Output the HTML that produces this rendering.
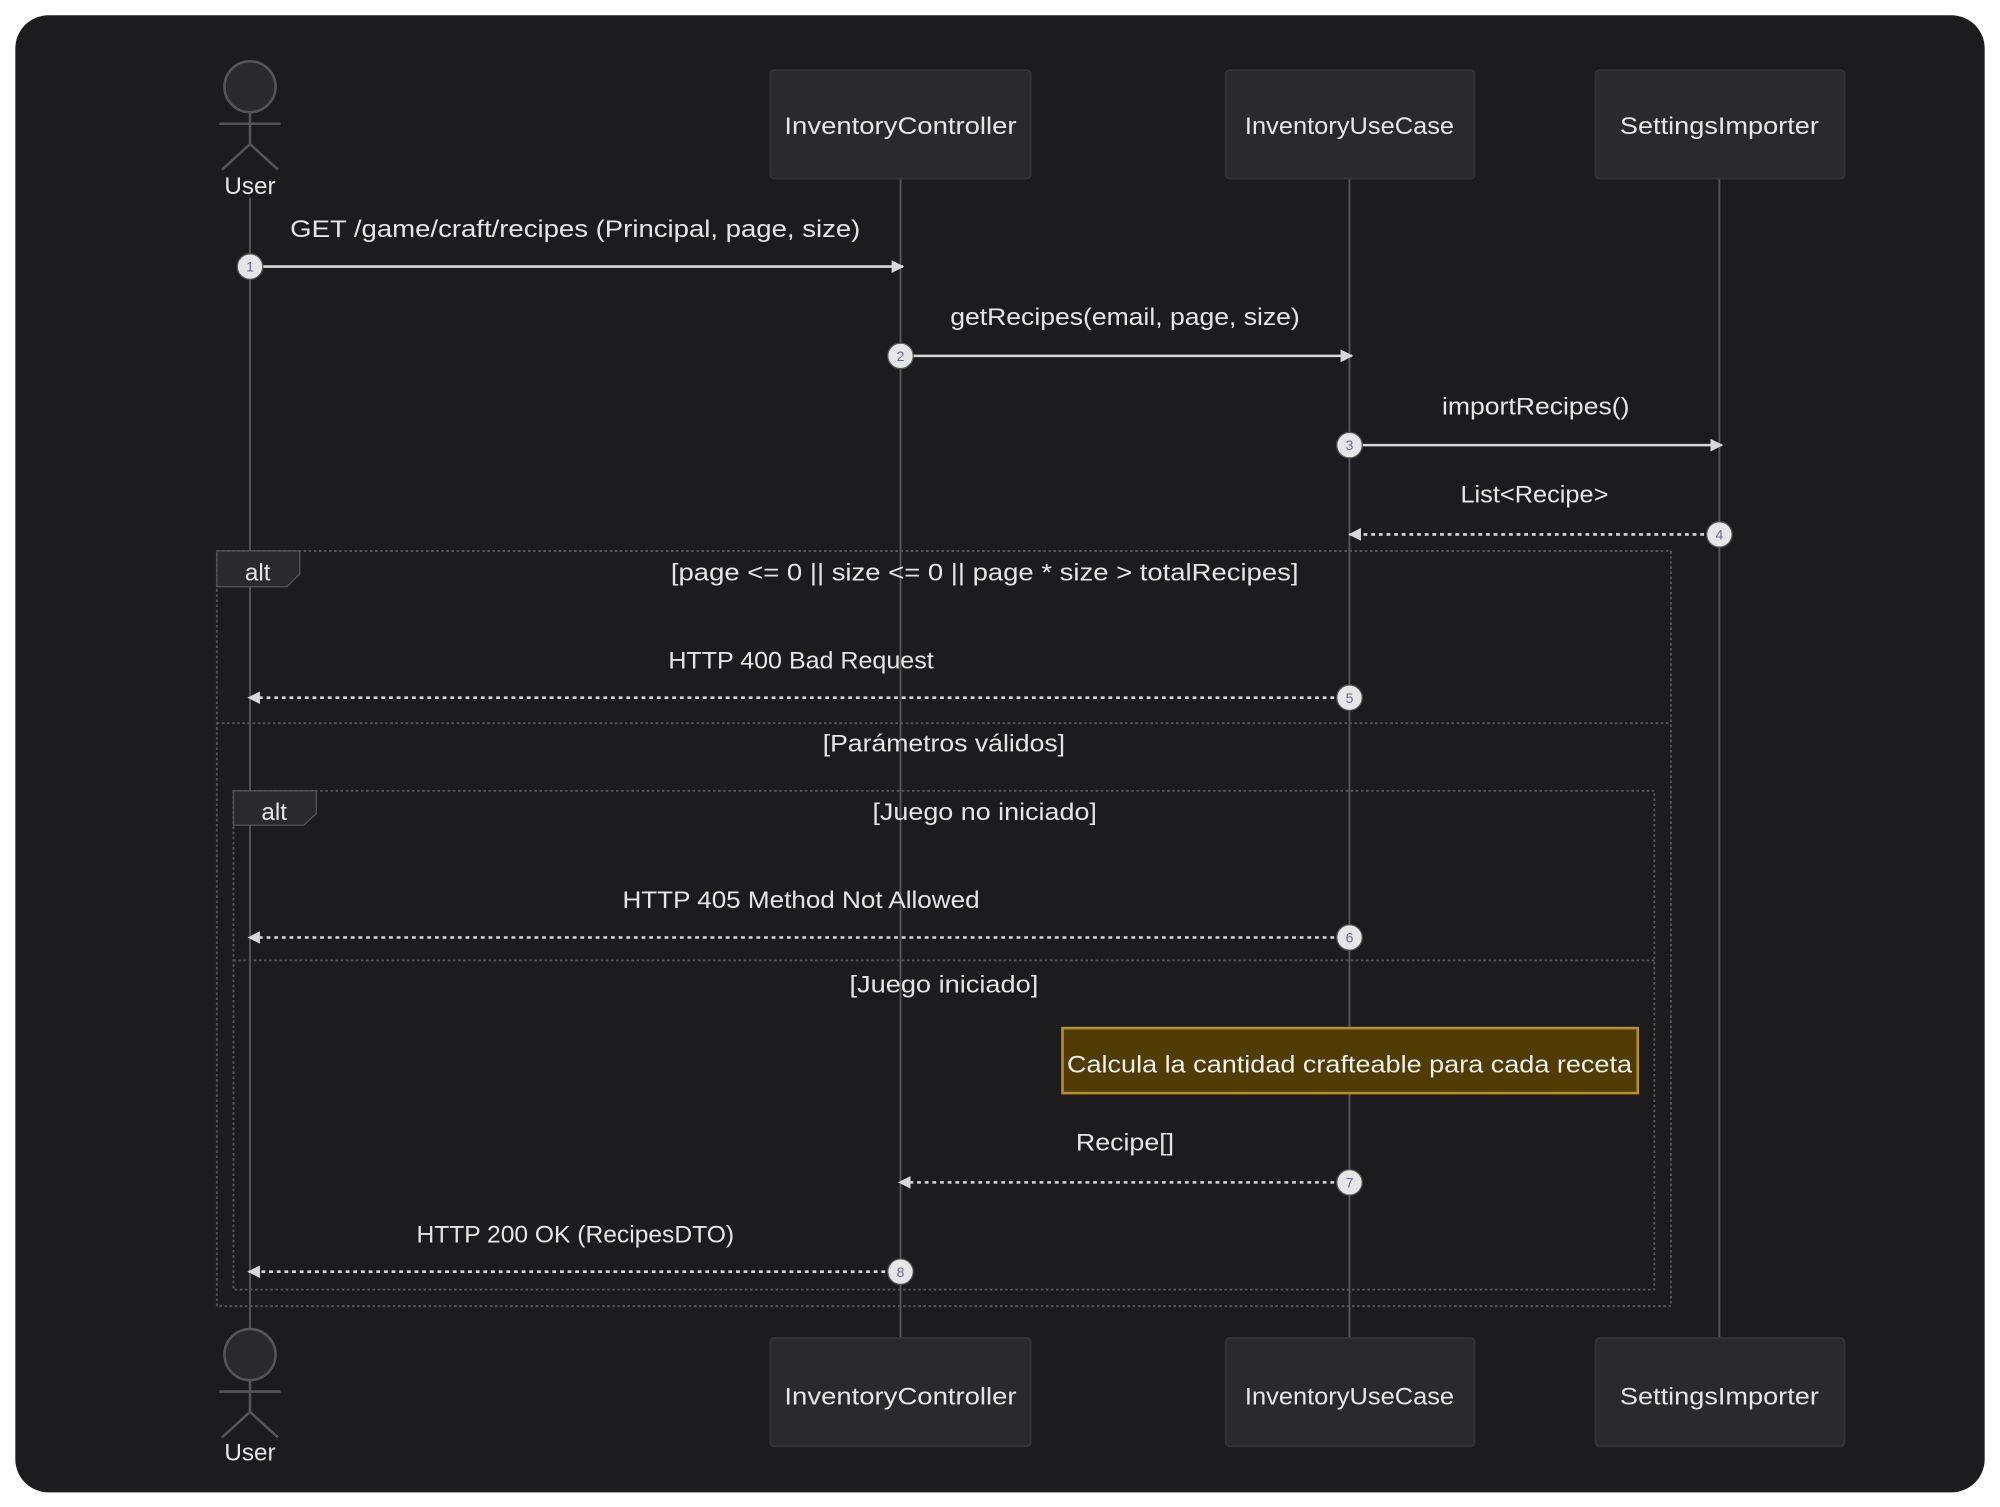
<!DOCTYPE html>
<html><head><meta charset="utf-8"><style>html,body{margin:0;padding:0;background:#fff}svg{display:block}</style></head>
<body>
<svg width="2000" height="1507" viewBox="0 0 1568 1181.5" preserveAspectRatio="none" xmlns="http://www.w3.org/2000/svg" font-family="'Liberation Sans', sans-serif">
<defs>
<marker id="ah" markerWidth="10" markerHeight="10" refX="9" refY="5" orient="auto" markerUnits="userSpaceOnUse"><path d="M0,0 L10,5 L0,10 z" fill="#d8d8d8"/></marker>
</defs>
<rect x="12" y="12" width="1544" height="1158" rx="26" fill="#1c1c1e"/>
<!-- lifelines -->
<g stroke="#555" stroke-width="1.5">
<line x1="196" y1="155" x2="196" y2="1045"/>
<line x1="706" y1="140" x2="706" y2="1049"/>
<line x1="1058" y1="140" x2="1058" y2="1049"/>
<line x1="1348" y1="140" x2="1348" y2="1049"/>
</g>
<!-- actors -->
<g stroke="#555" stroke-width="2" fill="#2a292c">
<circle cx="196" cy="68" r="20"/>
<line x1="196" y1="88" x2="196" y2="113"/><line x1="172" y1="97" x2="220" y2="97"/>
<line x1="196" y1="113" x2="174" y2="133"/><line x1="196" y1="113" x2="218" y2="133"/>
<circle cx="196" cy="1062" r="20"/>
<line x1="196" y1="1082" x2="196" y2="1107"/><line x1="172" y1="1091" x2="220" y2="1091"/>
<line x1="196" y1="1107" x2="174" y2="1127"/><line x1="196" y1="1107" x2="218" y2="1127"/>
</g>
<g fill="#e6e6e6" font-size="19" text-anchor="middle">
<text x="196" y="152">User</text>
<text x="196" y="1145">User</text>
</g>
<!-- participants -->
<g fill="#2a292c" stroke="#333336" stroke-width="1.5">
<rect x="604" y="55" width="204" height="85" rx="3"/>
<rect x="961" y="55" width="195" height="85" rx="3"/>
<rect x="1251" y="55" width="195" height="85" rx="3"/>
<rect x="604" y="1049" width="204" height="85" rx="3"/>
<rect x="961" y="1049" width="195" height="85" rx="3"/>
<rect x="1251" y="1049" width="195" height="85" rx="3"/>
</g>
<g fill="#e6e6e6" font-size="19" text-anchor="middle" lengthAdjust="spacingAndGlyphs">
<text x="706" y="105" textLength="182" lengthAdjust="spacingAndGlyphs">InventoryController</text>
<text x="1058" y="105" textLength="164" lengthAdjust="spacingAndGlyphs">InventoryUseCase</text>
<text x="1348" y="105" textLength="156" lengthAdjust="spacingAndGlyphs">SettingsImporter</text>
<text x="706" y="1101" textLength="182" lengthAdjust="spacingAndGlyphs">InventoryController</text>
<text x="1058" y="1101" textLength="164" lengthAdjust="spacingAndGlyphs">InventoryUseCase</text>
<text x="1348" y="1101" textLength="156" lengthAdjust="spacingAndGlyphs">SettingsImporter</text>
</g>
<!-- alt frames -->
<g fill="none" stroke="#555" stroke-width="1.5" stroke-dasharray="2,2">
<rect x="170" y="432" width="1140" height="592"/>
<line x1="170" y1="567" x2="1310" y2="567"/>
<rect x="183" y="620" width="1114" height="391"/>
<line x1="183" y1="753" x2="1297" y2="753"/>
</g>
<path d="M170,432 H235 V450 L225,460 H170 Z" fill="#2a292c" stroke="#555" stroke-width="1"/>
<path d="M183,620 H248 V638 L238,647 H183 Z" fill="#2a292c" stroke="#555" stroke-width="1"/>
<g fill="#e6e6e6" font-size="19" text-anchor="middle">
<text x="202" y="455">alt</text>
<text x="215" y="643">alt</text>
<text x="772" y="455" textLength="492" lengthAdjust="spacingAndGlyphs">[page &lt;= 0 || size &lt;= 0 || page * size &gt; totalRecipes]</text>
<text x="740" y="589" textLength="190" lengthAdjust="spacingAndGlyphs">[Parámetros válidos]</text>
<text x="772" y="643" textLength="176" lengthAdjust="spacingAndGlyphs">[Juego no iniciado]</text>
<text x="740" y="778" textLength="148" lengthAdjust="spacingAndGlyphs">[Juego iniciado]</text>
</g>
<!-- note -->
<rect x="833" y="806" width="451" height="51" fill="#503c00" stroke="#b8902a" stroke-width="2"/>
<text x="1058" y="841" fill="#f0f0f0" font-size="19" text-anchor="middle" textLength="443" lengthAdjust="spacingAndGlyphs">Calcula la cantidad crafteable para cada receta</text>
<!-- messages -->
<g stroke="#d8d8d8" stroke-width="2" fill="none" marker-end="url(#ah)">
<line x1="196" y1="209" x2="708" y2="209"/>
<line x1="706" y1="279" x2="1060" y2="279"/>
<line x1="1058" y1="349" x2="1350" y2="349"/>
</g>
<g stroke="#d8d8d8" stroke-width="2" fill="none" stroke-dasharray="3,3" marker-end="url(#ah)">
<line x1="1348" y1="419" x2="1058" y2="419"/>
<line x1="1058" y1="547" x2="195" y2="547"/>
<line x1="1058" y1="735" x2="195" y2="735"/>
<line x1="1058" y1="927" x2="705" y2="927"/>
<line x1="706" y1="997" x2="195" y2="997"/>
</g>
<g fill="#e6e6e6" font-size="19" text-anchor="middle">
<text x="451" y="186" textLength="447" lengthAdjust="spacingAndGlyphs">GET /game/craft/recipes (Principal, page, size)</text>
<text x="882" y="255" textLength="274" lengthAdjust="spacingAndGlyphs">getRecipes(email, page, size)</text>
<text x="1204" y="325" textLength="147" lengthAdjust="spacingAndGlyphs">importRecipes()</text>
<text x="1203" y="394" textLength="116" lengthAdjust="spacingAndGlyphs">List&lt;Recipe&gt;</text>
<text x="628" y="524" textLength="208" lengthAdjust="spacingAndGlyphs">HTTP 400 Bad Request</text>
<text x="628" y="712" textLength="280" lengthAdjust="spacingAndGlyphs">HTTP 405 Method Not Allowed</text>
<text x="882" y="902" textLength="77" lengthAdjust="spacingAndGlyphs">Recipe[]</text>
<text x="451" y="974" textLength="249" lengthAdjust="spacingAndGlyphs">HTTP 200 OK (RecipesDTO)</text>
</g>
<!-- sequence numbers -->
<g fill="#e6e6e6" stroke="#555" stroke-width="1">
<circle cx="196" cy="209" r="10"/><circle cx="706" cy="279" r="10"/><circle cx="1058" cy="349" r="10"/>
<circle cx="1348" cy="419" r="10"/><circle cx="1058" cy="547" r="10"/><circle cx="1058" cy="735" r="10"/>
<circle cx="1058" cy="927" r="10"/><circle cx="706" cy="997" r="10"/>
</g>
<g fill="#6a6a9a" font-size="11" text-anchor="middle">
<text x="196" y="213">1</text><text x="706" y="283">2</text><text x="1058" y="353">3</text>
<text x="1348" y="423">4</text><text x="1058" y="551">5</text><text x="1058" y="739">6</text>
<text x="1058" y="931">7</text><text x="706" y="1001">8</text>
</g>
</svg>
</body></html>
